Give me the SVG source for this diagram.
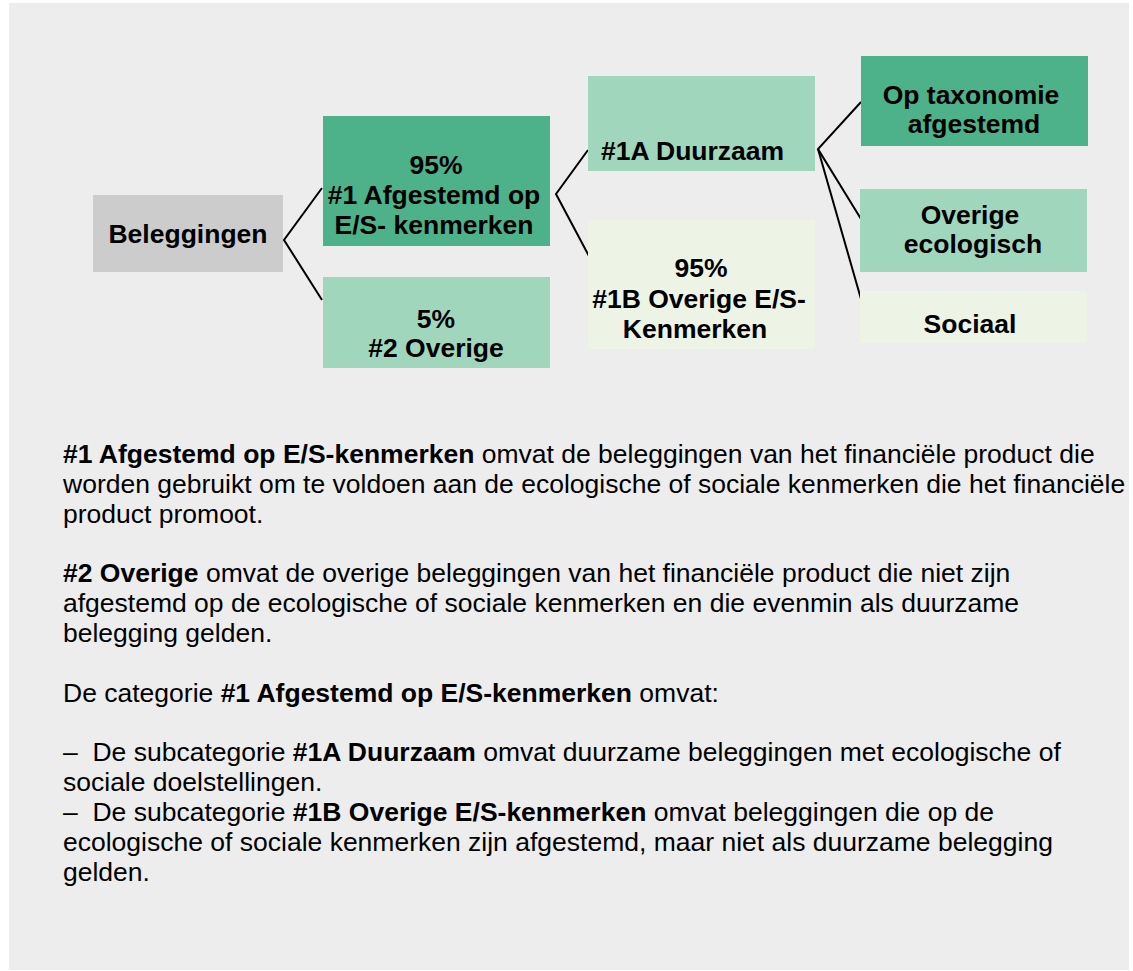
<svg xmlns="http://www.w3.org/2000/svg" width="1133" height="971" viewBox="0 0 1133 971">
<style>
.n{font-family:"Liberation Sans",Arial,sans-serif;font-size:26.5px;font-weight:bold;fill:#000;text-anchor:middle}
.p{font-family:"Liberation Sans",Arial,sans-serif;font-size:26.5px;fill:#000}
.b{font-weight:bold}
.dark{fill:#4db289}
.light{fill:#a0d6bc}
.pale{fill:#edf4e5}
.grey{fill:#cccccc}
.c{fill:none;stroke:#000;stroke-width:2}
</style>
<rect x="0" y="0" width="1133" height="971" fill="#ffffff"/>
<rect x="9" y="3" width="1120" height="967" fill="#ededed"/>
<g id="connectors">
<polyline class="c" points="322,188 284,240 322,300"/>
<polyline class="c" points="588,150 556,194 590,258"/>
<polyline class="c" points="861,102 818,149 861,219"/>
<polyline class="c" points="818,149 861,299"/>
</g>
<g id="beleggingen">
<rect class="grey" x="93" y="195" width="190" height="77"/>
<text class="n" x="188" y="243">Beleggingen</text>
</g>
<g id="n1">
<rect class="dark" x="323" y="116" width="227" height="130"/>
<text class="n" x="436" y="174">95%</text>
<text class="n" x="434" y="204">#1 Afgestemd op</text>
<text class="n" x="434" y="234">E/S- kenmerken</text>
</g>
<g id="n2">
<rect class="light" x="323" y="277" width="227" height="91"/>
<text class="n" x="436" y="328">5%</text>
<text class="n" x="436" y="357">#2 Overige</text>
</g>
<g id="n1a">
<rect class="light" x="588" y="76" width="227" height="95"/>
<text class="n" x="601" y="160" style="text-anchor:start">#1A Duurzaam</text>
</g>
<g id="n1b">
<rect class="pale" x="588" y="220" width="227" height="129"/>
<text class="n" x="701" y="277">95%</text>
<text class="n" x="699" y="308">#1B Overige E/S-</text>
<text class="n" x="695" y="338">Kenmerken</text>
</g>
<g id="taxonomie">
<rect class="dark" x="861" y="56" width="227" height="90"/>
<text class="n" x="971" y="104">Op taxonomie</text>
<text class="n" x="974" y="133">afgestemd</text>
</g>
<g id="ecologisch">
<rect class="light" x="860" y="189" width="227" height="83"/>
<text class="n" x="970" y="224">Overige</text>
<text class="n" x="973" y="253">ecologisch</text>
</g>
<g id="sociaal">
<rect class="pale" x="860" y="291" width="227" height="52"/>
<text class="n" x="970" y="333">Sociaal</text>
</g>
<g id="tekst">
<text class="p" x="63" y="463"><tspan class="b">#1 Afgestemd op E/S-kenmerken</tspan> omvat de beleggingen van het financiële product die</text>
<text class="p" x="63" y="493">worden gebruikt om te voldoen aan de ecologische of sociale kenmerken die het financiële</text>
<text class="p" x="63" y="523">product promoot.</text>
<text class="p" x="63" y="582"><tspan class="b">#2 Overige</tspan> omvat de overige beleggingen van het financiële product die niet zijn</text>
<text class="p" x="63" y="612">afgestemd op de ecologische of sociale kenmerken en die evenmin als duurzame</text>
<text class="p" x="63" y="642">belegging gelden.</text>
<text class="p" x="63" y="702">De categorie <tspan class="b">#1 Afgestemd op E/S-kenmerken</tspan> omvat:</text>
<text class="p" x="63" y="761">–&#160; De subcategorie <tspan class="b">#1A Duurzaam</tspan> omvat duurzame beleggingen met ecologische of</text>
<text class="p" x="63" y="791">sociale doelstellingen.</text>
<text class="p" x="63" y="821">–&#160; De subcategorie <tspan class="b">#1B Overige E/S-kenmerken</tspan> omvat beleggingen die op de</text>
<text class="p" x="63" y="851">ecologische of sociale kenmerken zijn afgestemd, maar niet als duurzame belegging</text>
<text class="p" x="63" y="881">gelden.</text>
</g>
</svg>
